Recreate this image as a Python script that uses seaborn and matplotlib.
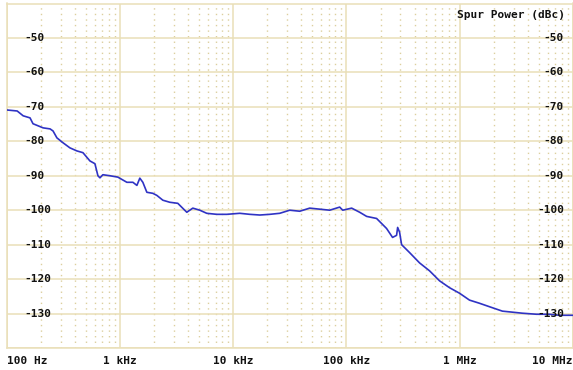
import matplotlib
matplotlib.use("Agg")
import matplotlib.pyplot as plt
import numpy as np
import pandas as pd
import seaborn as sns
from matplotlib.ticker import LogLocator, NullFormatter

# offset frequency (Hz) and spur level (dBc)
freq_hz = [
    100, 124, 140, 161, 171, 210, 242, 257, 278, 314, 362, 418, 472, 544,
    602, 640, 667, 708, 817, 960, 1153, 1303, 1413, 1500, 1595, 1730, 1954,
    2120, 2395, 2760, 3245, 3897, 4403, 5075, 5845, 7160, 8780, 11440,
    14020, 17180, 21050, 25780, 31580, 38700, 47400, 58080, 71150, 87170,
    92700, 111200, 130900, 150800, 184600, 226000, 255300, 277100, 283100,
    294600, 306800, 360800, 442200, 541700, 663700, 813100, 995900,
    1.22e6, 1.49e6, 1.9e6, 2.38e6, 2.92e6, 3.57e6, 4.75e6, 6.19e6, 7.58e6,
    1.0e7,
]
spur_dbc = [
    -70.9, -71.2, -72.6, -73.2, -74.9, -76.1, -76.4, -77.0, -79.0, -80.4,
    -81.9, -82.8, -83.3, -85.7, -86.5, -90.0, -90.6, -89.7, -90.0, -90.4,
    -91.9, -91.9, -92.8, -90.7, -91.9, -94.8, -95.1, -95.7, -97.1, -97.7,
    -98.0, -100.6, -99.4, -100.0, -100.9, -101.2, -101.2, -100.9, -101.2,
    -101.4, -101.2, -100.9, -100.0, -100.3, -99.4, -99.7, -100.0, -99.1,
    -100.0, -99.4, -100.6, -101.8, -102.4, -105.3, -107.9, -107.3, -105.0,
    -106.4, -110.0, -112.3, -115.3, -117.6, -120.5, -122.5, -124.1,
    -126.1, -127.0, -128.2, -129.3, -129.6, -129.9, -130.2, -130.2, -130.5,
    -130.5,
]

x_ticks = [1e2, 1e3, 1e4, 1e5, 1e6, 1e7]
x_labels = ["100 Hz", "1 kHz", "10 kHz", "100 kHz", "1 MHz", "10 MHz"]
y_ticks = [-140, -130, -120, -110, -100, -90, -80, -70, -60, -50, -40]
y_labels = ["-130", "-120", "-110", "-100", "-90", "-80", "-70", "-60", "-50"]
y_label_vals = [-130, -120, -110, -100, -90, -80, -70, -60, -50]

df = pd.DataFrame({"freq": freq_hz, "dbc": spur_dbc})

sns.set_style("white")
plt.rcParams["font.family"] = ["DejaVu Sans Mono", "DejaVu Sans"]

grid_col = "#EADFB8"
text_col = "#111111"

fig = plt.figure(figsize=(5.73, 3.70), dpi=100)
ax = fig.add_axes([6.6 / 573, 1 - 348 / 370, 1 - 6.6 / 573, (348 - 3.5) / 370])

sns.lineplot(data=df, x="freq", y="dbc", ax=ax, color="#2F33C4",
             linewidth=1.2, estimator=None, sort=False, zorder=3)

ax.set_xscale("log")
ax.set_xlim(1e2, 1e7)
ax.set_ylim(-140, -40)

ax.set_xticks(x_ticks)
ax.set_xticklabels(x_labels)
ax.xaxis.set_minor_locator(LogLocator(base=10, subs=np.arange(2, 10)))
ax.xaxis.set_minor_formatter(NullFormatter())
ax.set_yticks(y_ticks)
ax.set_yticklabels([])

ax.grid(True, which="major", axis="both", color=grid_col, linewidth=1.1, zorder=0)
ax.grid(True, which="minor", axis="x", color="#DCCF9E",
        linestyle=(0, (1, 3)), linewidth=1.0, zorder=0)

for s in ax.spines.values():
    s.set_color(grid_col)
    s.set_linewidth(1.1)

ax.tick_params(axis="both", which="both", length=0)
ax.tick_params(axis="x", pad=6, labelsize=8, labelcolor=text_col)
for lab in ax.get_xticklabels():
    lab.set_fontweight("bold")
xl = ax.get_xticklabels()
xl[0].set_horizontalalignment("left")
xl[-1].set_horizontalalignment("right")

ax.set_xlabel("")
ax.set_ylabel("")

ytrans = ax.get_yaxis_transform()
for val, lab in zip(y_label_vals, y_labels):
    ax.text(17.5 / 566.4, val, lab, transform=ytrans, ha="left", va="center",
            fontsize=8, fontweight="bold", color=text_col, zorder=4)
    ax.text((564 - 6.6) / 566.4, val, lab, transform=ytrans, ha="right",
            va="center", fontsize=8, fontweight="bold", color=text_col, zorder=4)

ax.text((565 - 6.6) / 566.4, 1 - (15 - 3.5) / 344.5, "Spur Power (dBc)",
        transform=ax.transAxes, ha="right", va="center", fontsize=8,
        fontweight="bold", color=text_col)

fig.savefig("out.png", dpi=100)
plt.close(fig)
